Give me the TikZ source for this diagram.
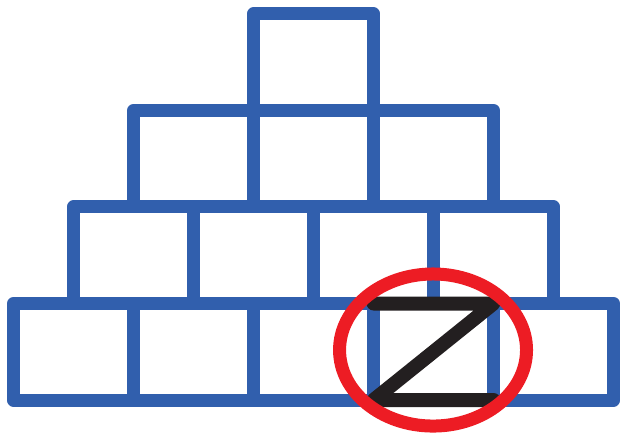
\documentclass[tikz,border=0pt]{standalone}
\usepackage{tikz}
\definecolor{stickblue}{RGB}{49,95,173}
\definecolor{ringred}{RGB}{237,28,36}
\definecolor{stickblack}{RGB}{35,31,32}
\tikzset{
	match/.style = {stickblue, line width=13pt, line join=round, line cap=round},
	moved/.style = {stickblack, line width=14pt, line join=round, line cap=round},
	ring/.style = {ringred, line width=13pt}
}
\begin{document}
\begin{tikzpicture}[x=120pt, y=96.5pt]
	\useasboundingbox (-0.1125,-0.352) rectangle (5.054,4.145);
	% rows of squares, row r has 5-r squares, one on top
	\foreach \r in {0,...,2} {
		\pgfmathtruncatemacro{\last}{4-\r}
		\foreach \i in {0,...,\last}
			\draw [match] (\i+0.5*\r,\r) rectangle ++(1,1);
	}
	\draw [match] (2,3) rectangle ++(1,1);
	\draw [moved] (3,1) -- (4,1) -- (3,0) -- (4,0);
	\draw [ring] (3.496,0.518) ellipse [x radius=0.779, y radius=0.788];
\end{tikzpicture}
\end{document}
